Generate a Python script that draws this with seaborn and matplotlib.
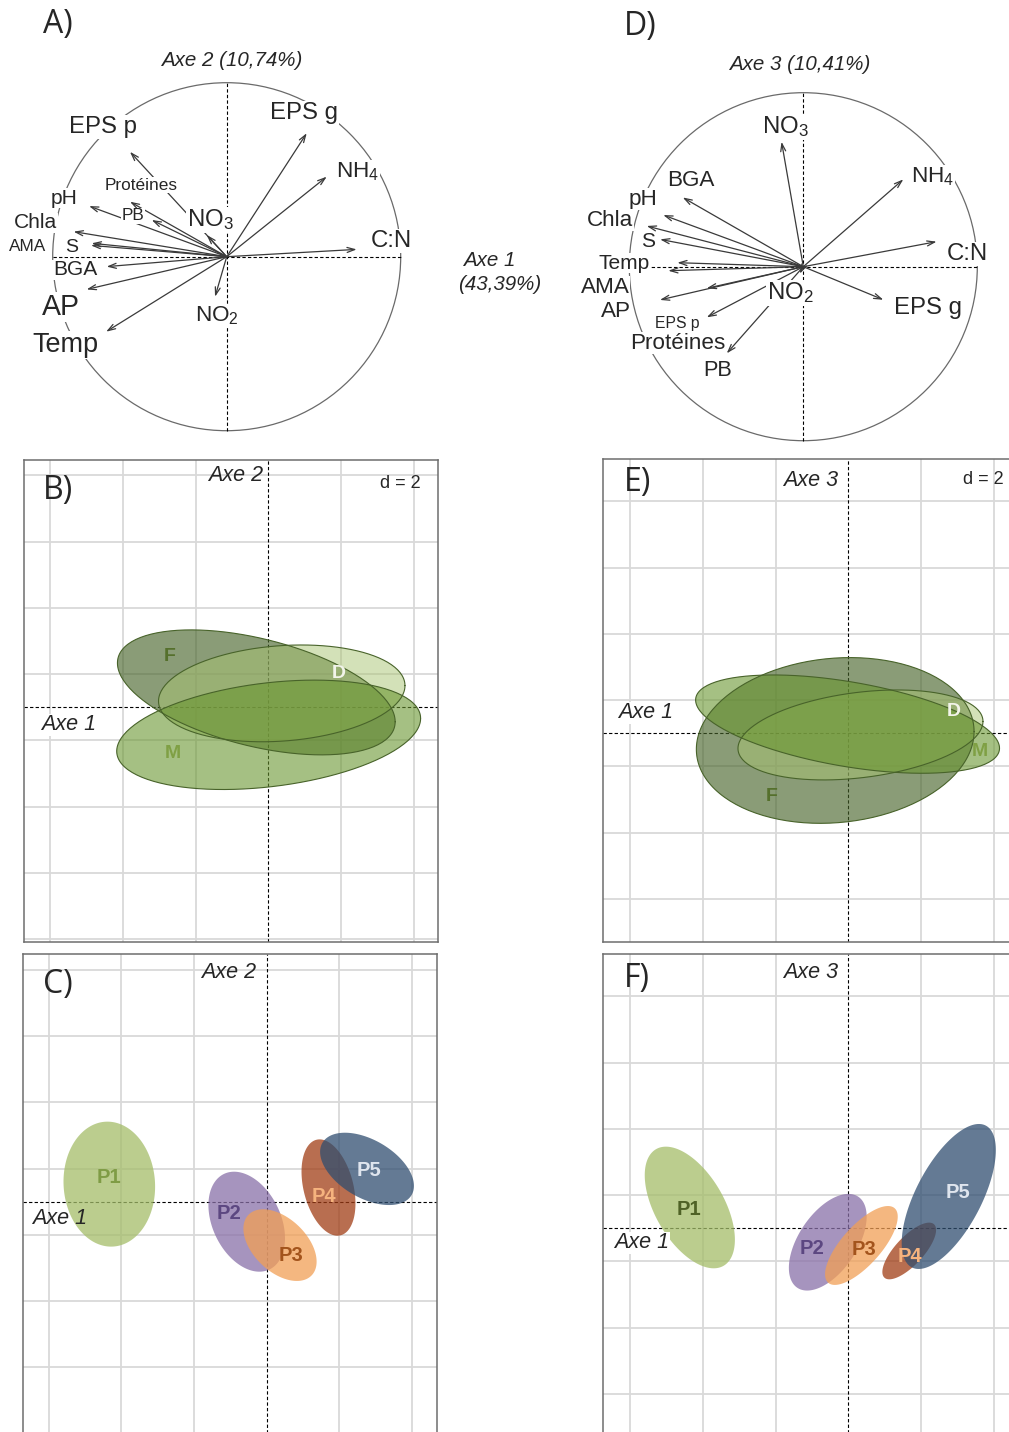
import numpy as np
import matplotlib
matplotlib.use("Agg")
import matplotlib.pyplot as plt
import seaborn as sns
from matplotlib.patches import Circle

# ========== DATA ==========
# correlation circle, axes 1-2 (panel A)
vars_A = ['EPS g', 'NH$_4$', 'C:N', 'NO$_2$', 'Temp', 'AP', 'BGA', 'S', 'AMA',
          'Chla', 'pH', 'PB', 'Protéines', 'EPS p', 'NO$_3$']
load_A_x = [0.46, 0.575, 0.747, -0.067, -0.693, -0.805, -0.69, -0.776, -0.78,
            -0.88, -0.791, -0.431, -0.556, -0.556, -0.115]
load_A_y = [0.71, 0.46, 0.042, -0.23, -0.431, -0.188, -0.057, 0.077, 0.065,
            0.144, 0.291, 0.211, 0.316, 0.603, 0.125]

# correlation circle, axes 1-3 (panel D)
vars_D = ['NO$_3$', 'NH$_4$', 'C:N', 'EPS g', 'BGA', 'pH', 'Chla', 'S', 'Temp',
          'AMA', 'Protéines', 'AP', 'EPS p', 'PB', 'NO$_2$']
load_D_x = [-0.125, 0.575, 0.766, 0.46, -0.693, -0.805, -0.9, -0.823, -0.724,
            -0.776, -0.555, -0.824, -0.555, -0.44, -0.02]
load_D_y = [0.718, 0.502, 0.144, -0.19, 0.398, 0.297, 0.234, 0.157, 0.023,
            -0.023, -0.124, -0.191, -0.291, -0.498, -0.04]

# seasons (panels B, E): centre, half extents, correlation
seasons = ['F', 'D', 'M']
B_cx = [-0.33, 0.37, 0.01]
B_cy = [0.45, 0.42, -0.83]
B_hx = [3.82, 3.39, 4.18]
B_hy = [1.885, 1.46, 1.65]
B_r = [-0.47, 0.16, 0.30]

E_cx = [-0.36, 0.335, -0.02]
E_cy = [-0.216, -0.05, 0.277]
E_hx = [3.82, 3.37, 4.18]
E_hy = [2.50, 1.357, 1.483]
E_r = [0.107, 0.30, -0.49]

# points (panels C, F)
points = ['P1', 'P2', 'P3', 'P4', 'P5']
C_cx = [-4.33, -0.55, 0.366, 1.70, 2.76]
C_cy = [0.53, -0.603, -1.31, 0.427, 0.99]
C_hx = [1.26, 1.053, 1.007, 0.742, 1.291]
C_hy = [1.885, 1.508, 1.081, 1.453, 1.091]
C_r = [-0.04, -0.33, -0.46, -0.33, -0.47]

F_cx = [-4.36, -0.565, 0.36, 1.676, 2.764]
F_cy = [0.628, -0.42, -0.518, -0.684, 0.96]
F_hx = [1.24, 1.07, 1.0, 0.739, 1.295]
F_hy = [1.835, 1.458, 1.19, 0.855, 2.187]
F_r = [-0.53, 0.53, 0.73, 0.74, 0.64]

# ========== STYLE ==========
sns.set_style("white")
plt.rcParams['font.family'] = ['Liberation Sans', 'DejaVu Sans']
plt.rcParams['mathtext.fontset'] = 'custom'
plt.rcParams['mathtext.rm'] = 'Liberation Sans'
plt.rcParams['mathtext.it'] = 'Liberation Sans:italic'

W, H = 1009, 1432
fig = plt.figure(figsize=(W / 100, H / 100), dpi=100)


def px_axes(l, t, r, b):
    ax = fig.add_axes([l / W, 1 - b / H, (r - l) / W, (b - t) / H])
    return ax


def ftext(x, y, s, **kw):
    kw.setdefault('ha', 'center')
    kw.setdefault('va', 'center')
    return fig.text(x / W, 1 - y / H, s, **kw)


PANEL_FONT = ['Open Sans', 'DejaVu Sans']
WHITE = dict(facecolor='white', edgecolor='none', pad=0.5)


# ========== CORRELATION CIRCLES ==========
def corcircle(box, centre, names, lx, ly, lab_xy, lab_size):
    l, t, r, b = box
    cx, cy = centre
    rad = 174.0
    ax = px_axes(l, t, r, b)
    ax.set_xlim((l - cx) / rad, (r - cx) / rad)
    ax.set_ylim((cy - b) / rad, (cy - t) / rad)
    ax.axis('off')
    ax.add_patch(Circle((0, 0), 1, fill=False, ec='#6a6a6a', lw=0.9, zorder=1))
    ax.plot([-1, 1], [0, 0], ls=(0, (3, 2)), color='black', lw=0.8, zorder=1)
    ax.plot([0, 0], [-1, 1], ls=(0, (3, 2)), color='black', lw=0.8, zorder=1)
    for x, y in zip(lx, ly):
        ax.annotate('', xy=(x, y), xytext=(0, 0), zorder=2,
                    arrowprops=dict(arrowstyle='->,head_length=0.55,head_width=0.18',
                                    color='#3a3a3a', lw=0.9, shrinkA=0, shrinkB=0))
    for name, (x, y), fs in zip(names, lab_xy, lab_size):
        ax.text(x, y, name, fontsize=fs * 1.08, ha='center', va='center', zorder=5,
                bbox=dict(facecolor='white', edgecolor='none', pad=0.6))
    return ax


labpos_A = [(0.444, 0.826), (0.754, 0.487), (0.944, 0.090), (-0.056, -0.341),
            (-0.929, -0.507), (-0.952, -0.289), (-0.872, -0.076), (-0.889, 0.050),
            (-1.142, 0.061), (-1.096, 0.194), (-0.935, 0.337), (-0.539, 0.234),
            (-0.493, 0.412), (-0.711, 0.745), (-0.096, 0.211)]
labsize_A = [16, 15, 16, 15, 18, 19, 14, 13, 11.5, 14, 14, 11.5, 11.5, 16, 16]
corcircle((0, 40, 560, 450), (226.7, 256.7), vars_A, load_A_x, load_A_y,
          labpos_A, labsize_A)

labpos_D = [(-0.105, 0.803), (0.745, 0.516), (0.941, 0.073), (0.717, -0.237),
            (-0.645, 0.498), (-0.921, 0.389), (-1.111, 0.268), (-0.893, 0.142),
            (-1.030, 0.021), (-1.140, -0.117), (-0.720, -0.439), (-1.076, -0.260),
            (-0.726, -0.324), (-0.490, -0.599), (-0.076, -0.151)]
labsize_D = [16, 15, 16, 16, 15, 15, 15, 14, 14, 15, 15, 15, 10.5, 14.5, 16]
corcircle((570, 40, 1009, 450), (803.3, 266.7), vars_D, load_D_x, load_D_y,
          labpos_D, labsize_D)

ftext(58, 25, 'A)', fontsize=23, family=PANEL_FONT)
ftext(640, 26, 'D)', fontsize=23, family=PANEL_FONT)
ftext(232, 60, 'Axe 2 (10,74%)', fontsize=14.8, style='italic')
ftext(800, 64, 'Axe 3 (10,41%)', fontsize=14.8, style='italic')
ftext(463, 260, 'Axe 1', fontsize=14.8, style='italic', ha='left')
ftext(458, 285, '(43,39%)', fontsize=14.8, style='italic', ha='left')


# ========== CLASS ELLIPSES ==========
def ellipse_xy(cx, cy, hx, hy, r, n=200):
    t = np.linspace(0, 2 * np.pi, n)
    x = cx + hx * np.cos(t)
    y = cy + hy * (r * np.cos(t) + np.sqrt(1 - r ** 2) * np.sin(t))
    return x, y


def grid_panel(box, origin):
    l, t, r, b = box
    ox, oy = origin
    sx, sy = 36.35, 33.15
    ax = px_axes(l, t, r, b)
    ax.set_xlim((l - ox) / sx, (r - ox) / sx)
    ax.set_ylim((oy - b) / sy, (oy - t) / sy)
    ax.set_xticks([])
    ax.set_yticks([])
    for v in [-6, -4, -2, 2, 4, 6]:
        ax.axvline(v, color='#d9d9d9', lw=1.3, zorder=0)
    for v in [-7, -5, -3, -1, 1, 3, 5, 7]:
        ax.axhline(v, color='#d9d9d9', lw=1.3, zorder=0)
    ax.axvline(0, color='black', ls=(0, (3, 2)), lw=0.8, zorder=0.5)
    ax.axhline(0, color='black', ls=(0, (3, 2)), lw=0.8, zorder=0.5)
    for s in ax.spines.values():
        s.set_color('#6e6e6e')
        s.set_linewidth(1.1)
    return ax


season_fill = ['#48642a', '#a9c472', '#6a9630']
season_alpha = [0.64, 0.5, 0.6]
season_lab = ['#55702c', '#f2f4ea', '#7fa044']

point_fill = ['#a4bd69', '#8970a8', '#f19f55', '#a13d15', '#304e70']
point_lab_C = ['#7f9c45', '#5c4781', '#a3541c', '#f6b37e', '#dfe5ee']
point_lab_F = ['#4f6226', '#5c4781', '#a3541c', '#f6b37e', '#dfe5ee']


def draw_seasons(ax, cx, cy, hx, hy, rr, lab_xy):
    for i in range(len(seasons)):
        x, y = ellipse_xy(cx[i], cy[i], hx[i], hy[i], rr[i])
        ax.fill(x, y, color=season_fill[i], alpha=season_alpha[i], lw=0, zorder=2)
        sns.lineplot(x=x, y=y, sort=False, estimator=None, ax=ax,
                     color='#48632a', lw=0.8, zorder=3)
    for i, (x, y) in enumerate(lab_xy):
        ax.text(x, y, seasons[i], color=season_lab[i], fontsize=14,
                fontweight='bold', ha='center', va='center', zorder=4)


def draw_points(ax, cx, cy, hx, hy, rr, lab_xy, lab_col):
    for i in range(len(points)):
        x, y = ellipse_xy(cx[i], cy[i], hx[i], hy[i], rr[i])
        ax.fill(x, y, color=point_fill[i], alpha=0.75, lw=0, zorder=2)
    for i, (x, y) in enumerate(lab_xy):
        ax.text(x, y, points[i], color=lab_col[i], fontsize=14.5,
                fontweight='bold', ha='center', va='center', zorder=4)


# B
axB = grid_panel((24, 460, 438, 942), (268.3, 707.3))
draw_seasons(axB, B_cx, B_cy, B_hx, B_hy, B_r,
             [(-2.70, 1.53), (1.93, 1.02), (-2.63, -1.39)])
ftext(58, 491, 'B)', fontsize=23, family=PANEL_FONT)
ftext(236, 475, 'Axe 2', fontsize=15.5, style='italic')
ftext(400, 483, 'd = 2', fontsize=13)
ftext(69, 725, 'Axe 1', fontsize=15.5, style='italic', bbox=WHITE)

# E
axE = grid_panel((603, 459, 1014, 942), (848.3, 733.3))
draw_seasons(axE, E_cx, E_cy, E_hx, E_hy, E_r,
             [(-2.11, -1.91), (2.89, 0.65), (3.63, -0.55)])
ftext(638, 483, 'E)', fontsize=23, family=PANEL_FONT)
ftext(811, 480, 'Axe 3', fontsize=15.5, style='italic')
ftext(983, 480, 'd = 2', fontsize=13)
ftext(646, 713, 'Axe 1', fontsize=15.5, style='italic', bbox=WHITE)

# C
axC = grid_panel((23, 954, 437, 1440), (266.7, 1201.7))
draw_points(axC, C_cx, C_cy, C_hx, C_hy, C_r,
            [(-4.35, 0.72), (-1.03, -0.35), (0.66, -1.61), (1.58, 0.17), (2.82, 0.955)],
            point_lab_C)
ftext(58, 985, 'C)', fontsize=23, family=PANEL_FONT)
ftext(229, 973, 'Axe 2', fontsize=15.5, style='italic')
ftext(60, 1219, 'Axe 1', fontsize=15.5, style='italic')

# F
axF = grid_panel((603, 954, 1014, 1440), (848.3, 1228.3))
draw_points(axF, F_cx, F_cy, F_hx, F_hy, F_r,
            [(-4.38, 0.57), (-1.01, -0.62), (0.44, -0.65), (1.70, -0.85), (3.03, 1.08)],
            point_lab_F)
ftext(637, 978, 'F)', fontsize=23, family=PANEL_FONT)
ftext(811, 972, 'Axe 3', fontsize=15.5, style='italic')
ftext(642, 1243, 'Axe 1', fontsize=15.5, style='italic', bbox=WHITE)

fig.savefig('out.png', dpi=100)
